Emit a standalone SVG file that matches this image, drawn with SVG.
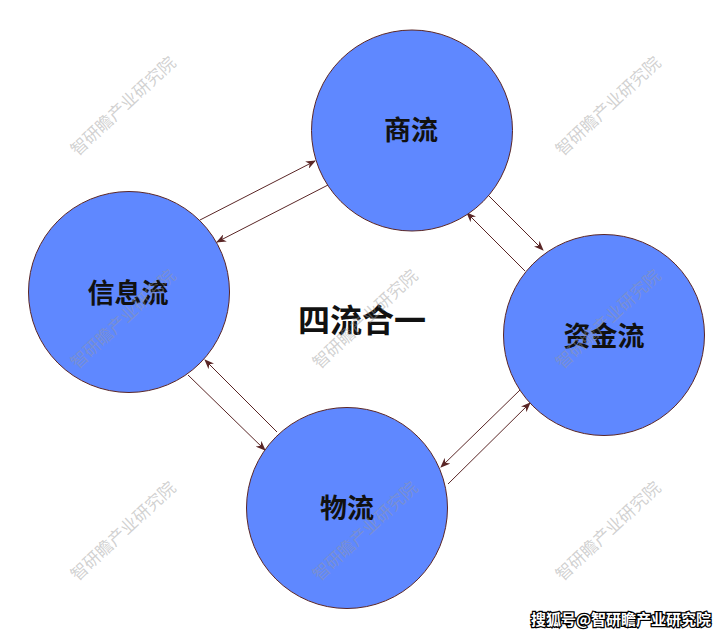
<svg xmlns="http://www.w3.org/2000/svg" width="725" height="636" viewBox="0 0 725 636">
<style>
.node{fill:#5f88ff;stroke:#5a2626;stroke-width:1}
.lbl{font-family:"Noto Sans CJK SC","Noto Sans CJK JP",sans-serif;font-weight:700;font-size:27px;fill:#111;text-anchor:middle;dominant-baseline:central}
.wm{font-family:"Noto Sans CJK SC",sans-serif;font-size:17px;fill:#999;fill-opacity:0.45;text-anchor:middle;dominant-baseline:central}
.conn line{stroke:#5a2626;stroke-width:1;marker-end:url(#ah)}
</style>
<defs>
<marker id="ah" markerWidth="10" markerHeight="8" refX="9" refY="4" orient="auto" markerUnits="userSpaceOnUse">
<path d="M0,0 L10,4 L0,8 L3,4 Z" fill="#5a2626"/>
</marker>
</defs>
<rect width="725" height="636" fill="#fff"/>
<g class="conn">
<line x1="200" y1="220" x2="315" y2="161"/>
<line x1="328" y1="185" x2="217" y2="242"/>
<line x1="488" y1="195" x2="543" y2="250"/>
<line x1="525" y1="271" x2="467" y2="213"/>
<line x1="520" y1="390" x2="441" y2="467"/>
<line x1="448" y1="484" x2="530" y2="403"/>
<line x1="277" y1="432" x2="205" y2="360"/>
<line x1="188" y1="375" x2="265" y2="450"/>
</g>
<g id="shangliu"><circle class="node" cx="412" cy="130.5" r="100.5"/><text class="lbl" x="411" y="128">商流</text></g>
<g id="xinxiliu"><circle class="node" cx="129" cy="292" r="100.5"/><text class="lbl" x="128" y="291">信息流</text></g>
<g id="zijinliu"><circle class="node" cx="604" cy="335" r="100.5"/><text class="lbl" x="604" y="334">资金流</text></g>
<g id="wuliu"><circle class="node" cx="347" cy="508" r="100.5"/><text class="lbl" x="347" y="506">物流</text></g>
<text x="362" y="318" font-family="Noto Sans CJK SC,sans-serif" font-weight="700" font-size="32" fill="#111" text-anchor="middle" dominant-baseline="central">四流合一</text>
<g>
<text class="wm" transform="translate(122,105) rotate(-43)">智研瞻产业研究院</text>
<text class="wm" transform="translate(607,105) rotate(-43)">智研瞻产业研究院</text>
<text class="wm" transform="translate(122,318) rotate(-43)">智研瞻产业研究院</text>
<text class="wm" transform="translate(364,318) rotate(-43)">智研瞻产业研究院</text>
<text class="wm" transform="translate(607,318) rotate(-43)">智研瞻产业研究院</text>
<text class="wm" transform="translate(122,530) rotate(-43)">智研瞻产业研究院</text>
<text class="wm" transform="translate(364,530) rotate(-43)">智研瞻产业研究院</text>
<text class="wm" transform="translate(607,530) rotate(-43)">智研瞻产业研究院</text>
</g>
<text x="711" y="618" font-family="Noto Sans CJK SC,sans-serif" font-weight="700" font-size="15" fill="#fff" stroke="#000" stroke-width="2.5" paint-order="stroke" text-anchor="end" dominant-baseline="central">搜狐号@智研瞻产业研究院</text>
</svg>
